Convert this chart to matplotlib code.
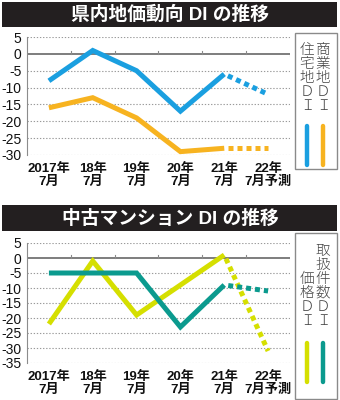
import matplotlib
matplotlib.use("Agg")
import matplotlib.pyplot as plt
from matplotlib.patches import Rectangle
from matplotlib import font_manager

# ---- data -------------------------------------------------------------
periods = ["2017年\n7月", "18年\n7月", "19年\n7月", "20年\n7月", "21年\n7月", "22年\n7月予測"]

residential = [-8, 1, -5, -17, -6]
residential_outlook = -12
commercial = [-16, -13, -19, -29, -28]
commercial_outlook = -28

condo_price = [-22, -1, -19, -9, 1]
condo_price_outlook = -31
condo_volume = [-5, -5, -5, -23, -9]
condo_volume_outlook = -11

top_ticks = [5, 0, -5, -10, -15, -20, -25, -30]
bottom_ticks = [5, 0, -5, -10, -15, -20, -25, -30, -35]

# ---- styling ------------------------------------------------------------
BLUE = "#1a9fe0"
ORANGE = "#f7b320"
LIME = "#d5df00"
TEAL = "#0b9a8e"
DARK = "#231f20"

available = {f.name for f in font_manager.fontManager.ttflist}
narrow = "Liberation Sans Narrow" if "Liberation Sans Narrow" in available else "Liberation Sans"
CJK = "Noto Sans CJK JP"
plt.rcParams["font.family"] = [narrow, CJK, "DejaVu Sans"]

W, H = 340, 400
fig = plt.figure(figsize=(W / 100, H / 100), dpi=100)


def fx(px):
    return px / W


def fy(py):
    return 1 - py / H


def title_bar(y0, y1, text):
    fig.patches.append(Rectangle((fx(2), fy(y1)), fx(335), (y1 - y0) / H,
                                 transform=fig.transFigure, facecolor=DARK,
                                 edgecolor="none"))
    fig.text(fx(170), fy((y0 + y1) / 2 + 0.5), text, color="white",
             fontsize=13.5, fontweight="bold", ha="center", va="center",
             family=["Liberation Sans", CJK])


def legend_box(y0, y1, columns):
    fig.patches.append(Rectangle((fx(295), fy(y1)), fx(42), (y1 - y0) / H,
                                 transform=fig.transFigure, facecolor="white",
                                 edgecolor="#8a8a8a", linewidth=1.0))
    for x, chars, y_start, color, ly0, ly1 in columns:
        for i, ch in enumerate(chars):
            fig.text(fx(x), fy(y_start + i * 14), ch, color="#444444",
                     fontsize=10.5, ha="center", va="center", family=[CJK],
                     fontweight="light")
        fig.add_artist(plt.Line2D([fx(x), fx(x)], [fy(ly0), fy(ly1)],
                                  transform=fig.transFigure, color=color,
                                  linewidth=3.2, solid_capstyle="round"))


def panel(rect, ylim, ticks, series):
    ax = fig.add_axes(rect)
    ax.set_xlim(-0.5, 5.5)
    ax.set_ylim(*ylim)
    for s in ("top", "right", "bottom"):
        ax.spines[s].set_visible(False)
    ax.spines["left"].set_color("#8c8c8c")
    ax.spines["left"].set_linewidth(0.8)

    for t in ticks:
        if t == 0:
            continue
        ax.axhline(t, color="#9a9a9a", linewidth=0.8, linestyle=(0, (1.2, 1.6)), zorder=1)
    ax.axhline(0, color="#5a5a5a", linewidth=1.1, zorder=2)
    for b in [0.5, 1.5, 2.5, 3.5, 4.5]:
        ax.plot([b, b], [0, (ylim[1] - ylim[0]) * 0.022], color="#8a8a8a",
                linewidth=0.8, zorder=2)
    ax.plot([5.5, 5.5], [0, -(ylim[1] - ylim[0]) * 0.02], color="#8a8a8a",
            linewidth=0.8, zorder=2)

    ax.set_yticks(ticks)
    ax.set_yticklabels([str(t) for t in ticks], fontsize=10, color="#111111")
    ax.tick_params(axis="y", length=0, pad=4)
    ax.set_xticks(range(len(periods)))
    ax.set_xticklabels(periods, fontsize=9.5, fontweight="bold", color="#111111",
                       linespacing=1.05)
    ax.tick_params(axis="x", length=0, pad=6)

    xs = list(range(5))
    for values, outlook, color in series:
        ax.plot(xs, values, color=color, linewidth=3.6, solid_joinstyle="miter",
                solid_capstyle="butt", zorder=4)
        ax.plot([4, 5], [values[-1], outlook], color=color, linewidth=3.6,
                linestyle=(1.0, (1.0, 0.8)), dash_capstyle="butt", zorder=3)
    return ax


title_bar(2, 27, "県内地価動向 DI の推移")
panel([fx(27), fy(155), fx(263), 118 / H], (-30, 5), top_ticks,
      [(residential, residential_outlook, BLUE),
       (commercial, commercial_outlook, ORANGE)])
legend_box(33, 169, [
    (307, ["住", "宅", "地", "Ｄ", "Ｉ"], 50, BLUE, 126, 165),
    (323, ["商", "業", "地", "Ｄ", "Ｉ"], 50, ORANGE, 126, 165),
])

title_bar(205, 231, "中古マンション DI の推移")
panel([fx(27), fy(363), fx(263), 120 / H], (-35, 5), bottom_ticks,
      [(condo_price, condo_price_outlook, LIME),
       (condo_volume, condo_volume_outlook, TEAL)])
legend_box(233, 399, [
    (307, ["価", "格", "Ｄ", "Ｉ"], 279, LIME, 343, 382),
    (323, ["取", "扱", "件", "数", "Ｄ", "Ｉ"], 251, TEAL, 343, 382),
])

fig.savefig("out.png", dpi=100)
